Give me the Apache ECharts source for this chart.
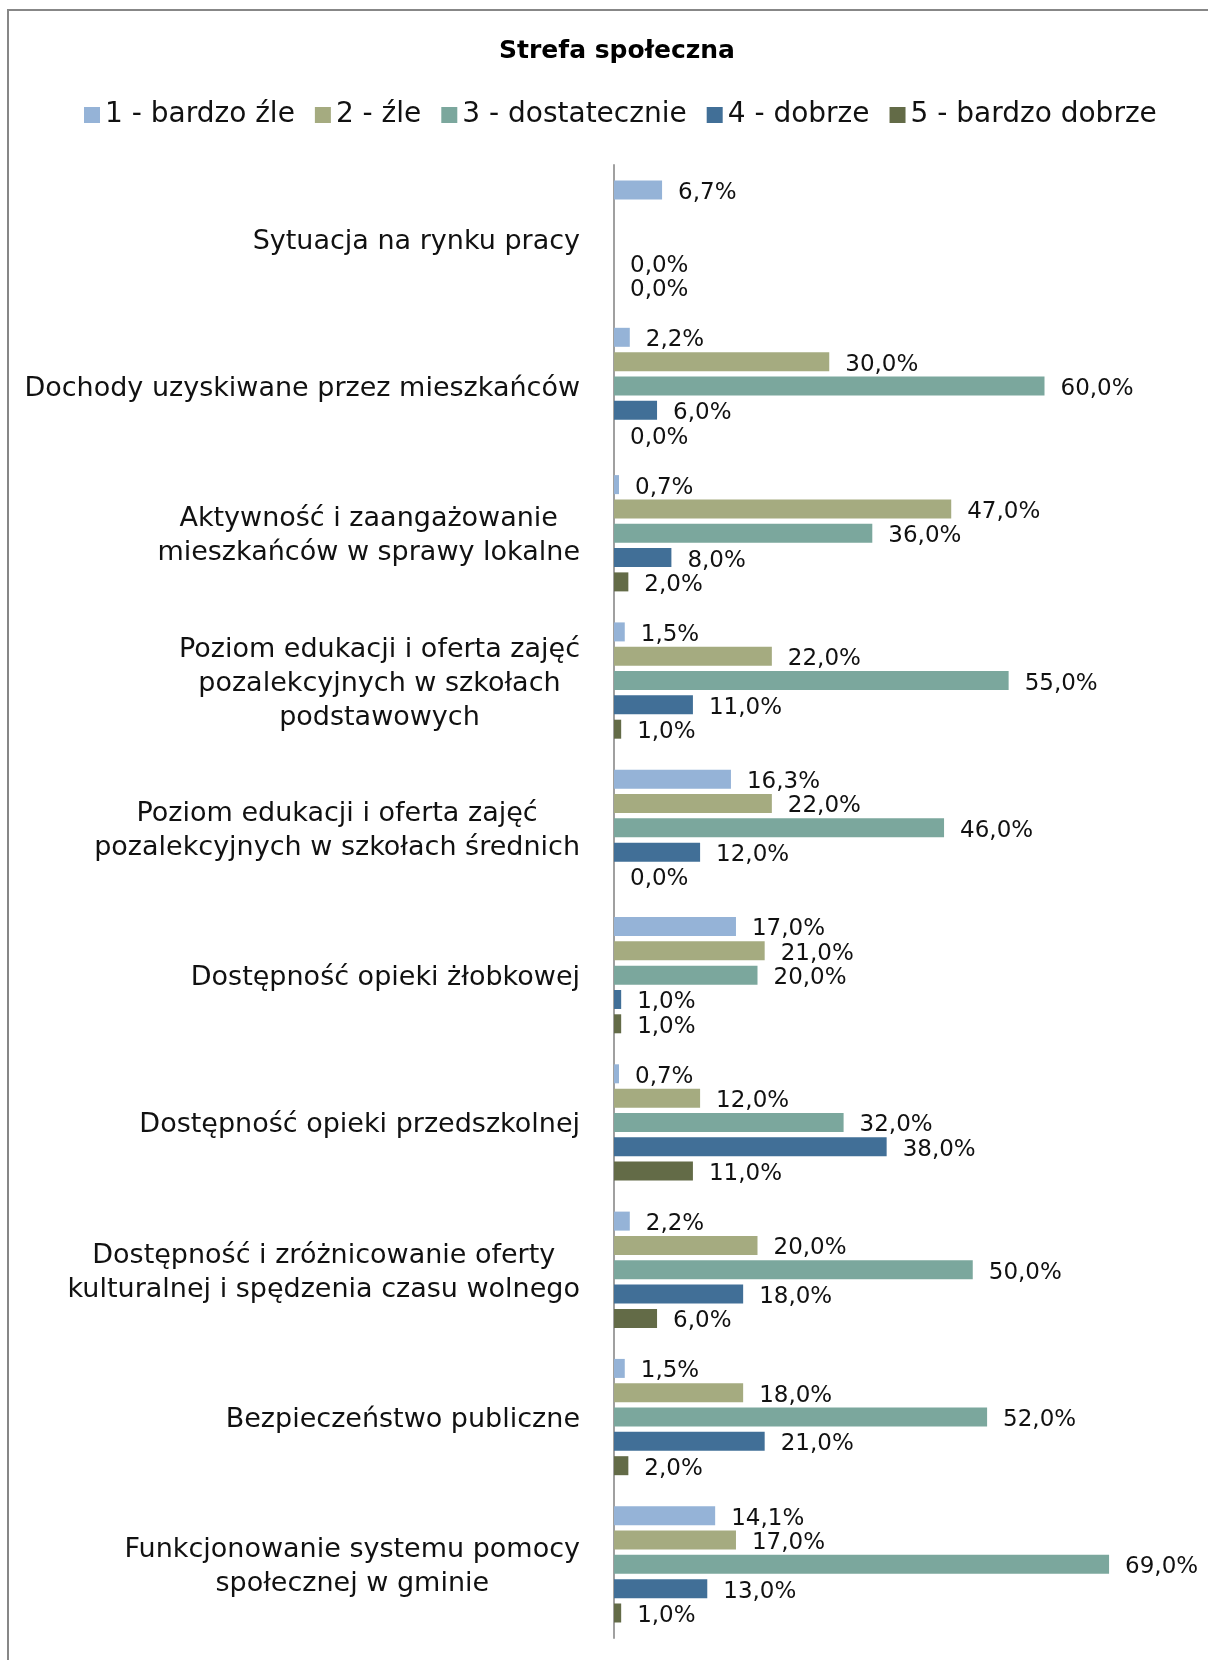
<!DOCTYPE html>
<html>
<head>
<meta charset="utf-8">
<script src="https://cdn.jsdelivr.net/npm/echarts@6/dist/echarts.min.js"></script>
<style>
html,body{margin:0;padding:0;background:#fff;}
#chart{width:1208px;height:1660px;}
</style>
</head>
<body>
<div id="chart"></div>
<script>
const categories = [
  "Sytuacja na rynku pracy",
  "Dochody uzyskiwane przez mieszkańców",
  "Aktywność i zaangażowanie\nmieszkańców w sprawy lokalne",
  "Poziom edukacji i oferta zajęć\npozalekcyjnych w szkołach\npodstawowych",
  "Poziom edukacji i oferta zajęć\npozalekcyjnych w szkołach średnich",
  "Dostępność opieki żłobkowej",
  "Dostępność opieki przedszkolnej",
  "Dostępność i zróżnicowanie oferty\nkulturalnej i spędzenia czasu wolnego",
  "Bezpieczeństwo publiczne",
  "Funkcjonowanie systemu pomocy\nspołecznej w gminie"
];
const seriesNames = ["1 - bardzo źle", "2 - źle", "3 - dostatecznie", "4 - dobrze", "5 - bardzo dobrze"];
const s1 = [6.7, 2.2, 0.7, 1.5, 16.3, 17.0, 0.7, 2.2, 1.5, 14.1];
const s2 = [null, 30.0, 47.0, 22.0, 22.0, 21.0, 12.0, 20.0, 18.0, 17.0];
const s3 = [null, 60.0, 36.0, 55.0, 46.0, 20.0, 32.0, 50.0, 52.0, 69.0];
const s4 = [0.0, 6.0, 8.0, 11.0, 12.0, 1.0, 38.0, 18.0, 21.0, 13.0];
const s5 = [0.0, 0.0, 2.0, 1.0, 0.0, 1.0, 11.0, 6.0, 2.0, 1.0];
const colors = ["#95B3D7", "#A5AB80", "#7BA79D", "#416F97", "#636B47"];

const FONT = "DejaVu Sans";
const allData = [s1, s2, s3, s4, s5];

const series = allData.map((d, i) => ({
  name: seriesNames[i],
  type: 'bar',
  data: d,
  barWidth: 19,
  barGap: '28%',
  itemStyle: { color: colors[i] },
  label: {
    show: true,
    position: 'right',
    distance: 16,
    offset: [0, 3],
    fontFamily: FONT,
    fontSize: 23,
    color: '#111',
    formatter: p => (p.value === null || p.value === undefined) ? '' : p.value.toFixed(1).replace('.', ',') + '%'
  }
}));

const chart = echarts.init(document.getElementById('chart'), null, { renderer: 'canvas' });
chart.setOption({
  animation: false,
  color: colors,
  title: {
    text: 'Strefa społeczna',
    left: 612,
    textAlign: 'center',
    top: 34,
    textStyle: { fontFamily: FONT, fontSize: 25, fontWeight: 'bold', color: '#000' }
  },
  legend: {
    data: seriesNames,
    top: 96,
    left: 79,
    itemWidth: 16,
    itemHeight: 16,
    itemGap: 20,
    icon: 'rect',
    textStyle: { fontFamily: FONT, fontSize: 28, color: '#111', padding: [0, 0, 0, 0] }
  },
  graphic: [{
    type: 'rect',
    shape: { x: 8, y: 10, width: 1300, height: 1800 },
    style: { fill: 'none', stroke: '#878787', lineWidth: 2 },
    silent: true
  }],
  grid: { left: 614, top: 165, width: 574, height: 1473, containLabel: false },
  xAxis: {
    type: 'value',
    min: 0,
    max: 80,
    show: false,
    splitLine: { show: false }
  },
  yAxis: {
    type: 'category',
    data: categories,
    inverse: true,
    axisLine: { show: true, lineStyle: { color: '#a0a0a0', width: 2 } },
    axisTick: { show: false },
    axisLabel: {
      margin: 34,
      fontFamily: FONT,
      fontSize: 27,
      color: '#111',
      lineHeight: 34,
      padding: [6, 0, 0, 0],
      formatter: v => v.split('\n').map(l => '{c|' + l + '}').join('\n'),
      rich: { c: { align: 'center', fontFamily: FONT, fontSize: 27, color: '#111', lineHeight: 34 } }
    }
  },
  series: series
});
</script>
</body>
</html>
